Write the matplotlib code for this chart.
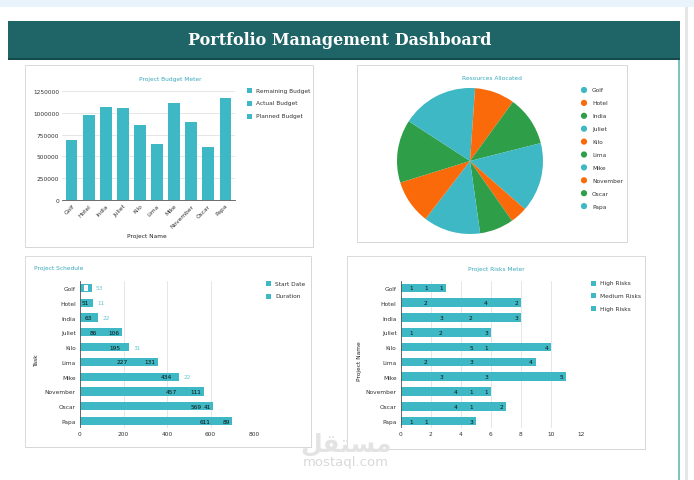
import matplotlib.pyplot as plt
from matplotlib.patches import Rectangle, Ellipse
import numpy as np

W, H = 694, 481
TEAL = '#3db8c4'
ORANGE = '#fa6a0a'
GREEN = '#2f9e48'
TITLE_C = '#3aa9bb'
GRID_C = '#e2e2e2'

projects = ['Golf', 'Hotel', 'India', 'Juliet', 'Kilo', 'Lima', 'Mike',
            'November', 'Oscar', 'Papa']

# budget meter
budget = [692000, 975000, 1066000, 1059000, 860000, 638000, 1116000,
          898000, 612000, 1174000]
budget_ticks = [0, 250000, 500000, 750000, 1000000, 1250000]
budget_legend = ['Remaining Budget', 'Actual Budget', 'Planned Budget']

# resources allocated
resources = [4, 32, 39.8, 55.4, 13.7, 27.1, 45.5, 35.3, 50.2, 57]
pie_colors = [TEAL, ORANGE, GREEN] * 3 + [TEAL]

# schedule
start = [0, 51, 63, 86, 195, 227, 434, 457, 569, 611]
duration = [53, 11, 22, 106, 31, 131, 22, 111, 41, 89]
sched_outside = [True, True, True, False, True, False, True, False, False, False]
sched_ticks = [0, 200, 400, 600, 800]
sched_legend = ['Start Date', 'Duration']

# risks
risk_a = [1, 2, 3, 1, 5, 2, 3, 4, 4, 1]
risk_b = [1, 4, 2, 2, 1, 3, 3, 1, 1, 1]
risk_c = [1, 2, 3, 3, 4, 4, 5, 1, 2, 3]
risk_ticks = [0, 2, 4, 6, 8, 10, 12]
risk_legend = ['High Risks', 'Medium Risks', 'High Risks']


def box(x0, y0, x1, y1):
    return [x0 / W, 1 - y1 / H, (x1 - x0) / W, (y1 - y0) / H]


def rect(x0, y0, x1, y1, zorder=-2, **kw):
    fig.patches.append(Rectangle((x0 / W, 1 - y1 / H), (x1 - x0) / W, (y1 - y0) / H,
                                 transform=fig.transFigure, zorder=zorder, **kw))


def ftext(x, y, s, **kw):
    kw.setdefault('fontsize', 4.2)
    kw.setdefault('va', 'center')
    fig.text(x / W, 1 - y / H, s, **kw)


def card(x0, y0, x1, y1):
    rect(x0 + 1, y0 + 1, x1 + 1, y1 + 1, facecolor='#d9d9d9', edgecolor='none')
    rect(x0, y0, x1, y1, facecolor='white', edgecolor='#d4d4d4', lw=0.6)


def square_legend(x, y0, step, labels):
    for i, lab in enumerate(labels):
        y = y0 + i * step
        rect(x - 2.5, y - 2.5, x + 2.5, y + 2.5, zorder=1, facecolor=TEAL, edgecolor='none')
        ftext(x + 7, y, lab, color='#333333')


def style_axes(ax):
    ax.set_facecolor('none')
    for s in ax.spines.values():
        s.set_visible(False)
    ax.tick_params(length=0, labelsize=4.2, colors='#333333', pad=2)


fig = plt.figure(figsize=(W / 100, H / 100), dpi=100)
fig.patch.set_facecolor('white')

# page frame
rect(0, 0, W, 8, facecolor='#e8f3fc', edgecolor='none')
rect(685, 8, 688, H, facecolor='#e6e6e6', edgecolor='none')
rect(678, 60, 680, H, facecolor='#7cc4c0', edgecolor='none')
rect(8, 22, 680, 60, facecolor='#1f6467', edgecolor='none')
rect(8, 59, 680, 60.5, facecolor='#154a4c', edgecolor='none')
ftext(340, 41, 'Portfolio Management Dashboard', fontsize=11.5, color='white',
      family='DejaVu Serif', weight='bold', ha='center')

card(25, 66, 313, 248)
card(357, 66, 627, 243)
card(25, 257, 311, 448)
card(347, 257, 645, 450)

# watermark
ftext(346, 444, '\ufede\ufed8\ufe98\ufeb4\ufee3', fontsize=18, color='#e3e3e3',
      ha='center', weight='bold', zorder=5)
ftext(346, 463, 'mostaql.com', fontsize=9.5, color='#d9d9d9', ha='center', zorder=5)

# ---- budget meter
ax1 = fig.add_axes(box(62, 92, 235, 201))
x = np.arange(len(projects))
ax1.bar(x, budget, width=0.66, color=TEAL, zorder=2)
ax1.set_xlim(-0.58, 9.58)
ax1.set_ylim(0, 1250000)
ax1.set_yticks(budget_ticks)
ax1.set_yticklabels([str(v) for v in budget_ticks])
ax1.set_xticks(x)
ax1.set_xticklabels(projects, rotation=45, ha='right', rotation_mode='anchor')
ax1.grid(axis='y', color=GRID_C, lw=0.6, zorder=0)
style_axes(ax1)
ax1.spines['bottom'].set_visible(True)
ax1.spines['bottom'].set_color('#555555')
ax1.spines['bottom'].set_linewidth(0.6)
ftext(170, 79, 'Project Budget Meter', color=TITLE_C, ha='center')
ftext(147, 237, 'Project Name', color='#222222', ha='center')
square_legend(249, 91, 13, budget_legend)

# ---- resources allocated
ax2 = fig.add_axes(box(397, 89, 543, 235))
ax2.pie(resources, colors=pie_colors, startangle=90, counterclock=False,
        wedgeprops=dict(linewidth=0.3, edgecolor='none'))
ax2.set_xlim(-1, 1)
ax2.set_ylim(-1, 1)
ftext(492, 78, 'Resources Allocated', color=TITLE_C, ha='center')
for i, lab in enumerate(projects):
    yy = 91 + i * 12.9
    fig.patches.append(Ellipse((584 / W, 1 - yy / H), 6.2 / W, 6.2 / H,
                               transform=fig.transFigure, zorder=1,
                               facecolor=pie_colors[i], edgecolor='none'))
    ftext(592, yy, lab, color='#333333')

# ---- project schedule
ax3 = fig.add_axes(box(80, 281.6, 254, 429.4))
y = np.arange(len(projects))
ax3.barh(y, start, height=0.56, color=TEAL, zorder=2)
ax3.barh(y, duration, left=start, height=0.56, color=TEAL, zorder=2)
ax3.set_ylim(9.5, -0.5)
ax3.set_xlim(0, 800)
ax3.set_xticks(sched_ticks)
ax3.set_yticks(y)
ax3.set_yticklabels(projects)
ax3.grid(axis='x', color=GRID_C, lw=0.6, zorder=0)
style_axes(ax3)
ax3.tick_params(axis='y', pad=3)
ax3.axvline(0, color='#555555', lw=0.6, zorder=3)
for i in range(len(projects)):
    if start[i] > 0:
        ax3.annotate(str(start[i]), (start[i], i), xytext=(-2, 0),
                     textcoords='offset pixels', ha='right', va='center',
                     fontsize=4.2, color='#111111', zorder=4)
    else:
        ax3.annotate('0', (start[i] + duration[i] / 2, i), ha='center', va='center',
                     fontsize=3, color='#dddddd', zorder=4,
                     bbox=dict(fc='white', ec='none', pad=0.5))
    end = start[i] + duration[i]
    if sched_outside[i]:
        ax3.annotate(str(duration[i]), (end, i), xytext=(4, 0),
                     textcoords='offset pixels', ha='left', va='center',
                     fontsize=4.2, color='#6cc6d0', zorder=4)
    else:
        ax3.annotate(str(duration[i]), (end, i), xytext=(-2, 0),
                     textcoords='offset pixels', ha='right', va='center',
                     fontsize=4.2, color='#111111', zorder=4)
ftext(34, 269, 'Project Schedule', color=TITLE_C, ha='left')
ftext(37, 361, 'Task', color='#222222', ha='center', rotation=90)
square_legend(268, 284, 13, sched_legend)

# ---- risks meter
ax4 = fig.add_axes(box(400.7, 281.6, 581, 429.4))
b_left = np.array(risk_a)
c_left = b_left + np.array(risk_b)
ax4.barh(y, risk_a, height=0.59, color=TEAL, zorder=2)
ax4.barh(y, risk_b, left=b_left, height=0.59, color=TEAL, zorder=2)
ax4.barh(y, risk_c, left=c_left, height=0.59, color=TEAL, zorder=2)
ax4.set_ylim(9.5, -0.5)
ax4.set_xlim(0, 12)
ax4.set_xticks(risk_ticks)
ax4.set_yticks(y)
ax4.set_yticklabels(projects)
ax4.grid(axis='x', color=GRID_C, lw=0.6, zorder=0)
style_axes(ax4)
ax4.tick_params(axis='y', pad=3)
ax4.axvline(0, color='#555555', lw=0.6, zorder=3)
for i in range(len(projects)):
    for val, end in ((risk_a[i], b_left[i]), (risk_b[i], c_left[i]),
                     (risk_c[i], c_left[i] + risk_c[i])):
        ax4.annotate(str(val), (end, i), xytext=(-3, 0), textcoords='offset pixels',
                     ha='right', va='center', fontsize=4.2, color='#111111', zorder=4)
ftext(496, 270, 'Project Risks Meter', color=TITLE_C, ha='center')
ftext(359, 361, 'Project Name', color='#222222', ha='center', rotation=90)
square_legend(593, 284, 12.7, risk_legend)

fig.savefig('out.png', dpi=100)
